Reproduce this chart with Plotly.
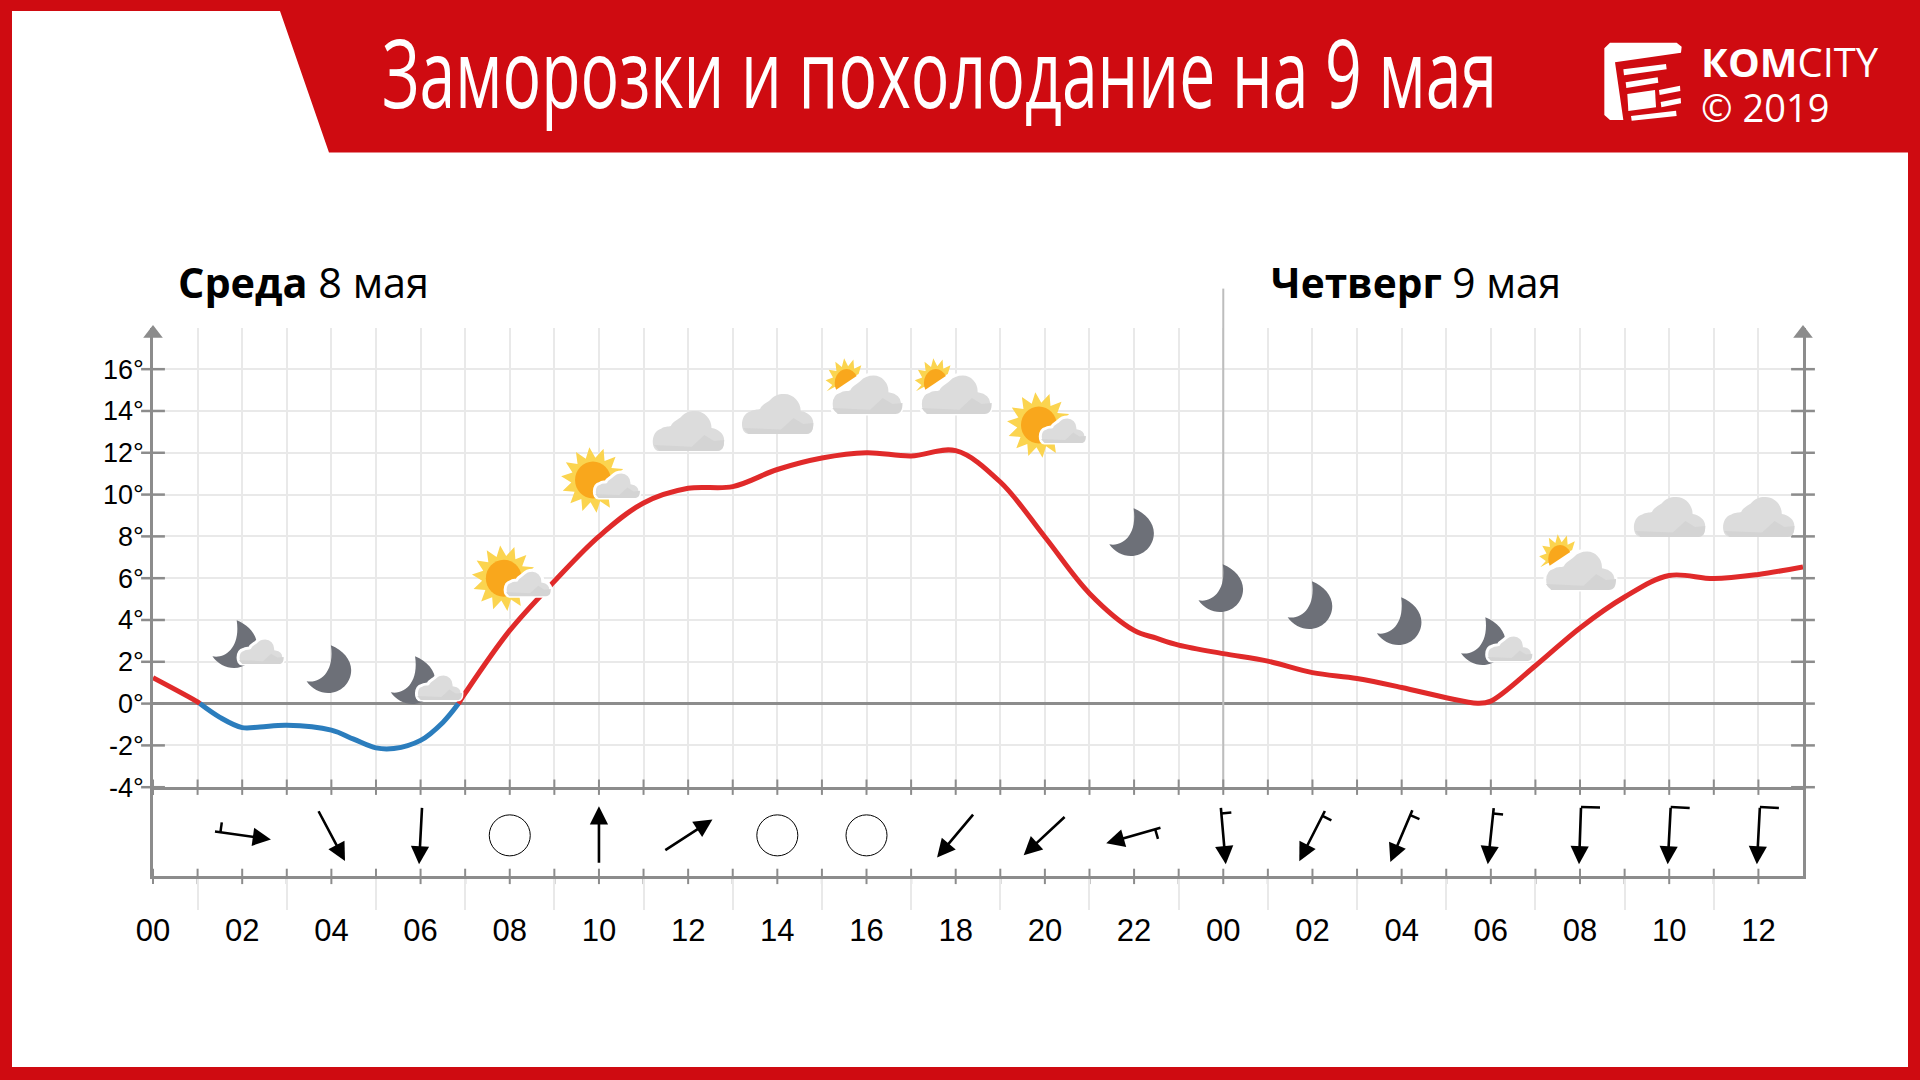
import math
import plotly.graph_objects as go

# ---- data ----
hours = [0, 1, 1.05, 1.5, 2, 2.4, 3, 4, 4.5, 5, 5.4, 6, 6.5, 6.85, 7, 8, 9, 10, 11, 12, 13, 14, 15, 16, 17, 18, 19, 20, 21, 22, 22.5, 23, 24, 25, 26, 27, 28, 29, 29.7, 30, 31, 32, 33, 34, 35, 36, 37]
temps = [1.24, 0.08, 0, -0.66, -1.15, -1.12, -1.04, -1.27, -1.7, -2.12, -2.15, -1.76, -0.9, 0, 0.5, 3.5, 5.85, 8.0, 9.6, 10.3, 10.38, 11.2, 11.75, 12.0, 11.85, 12.1, 10.6, 7.97, 5.27, 3.5, 3.13, 2.8, 2.39, 2.03, 1.48, 1.2, 0.77, 0.28, 0.02, 0.12, 1.81, 3.62, 5.1, 6.13, 5.98, 6.18, 6.54]

tick_temps = [-4, -2, 0, 2, 4, 6, 8, 10, 12, 14, 16]
tick_temp_labels = ["-4°", "-2°", "0°", "2°", "4°", "6°", "8°", "10°", "12°", "14°", "16°"]
label_hours = [0, 2, 4, 6, 8, 10, 12, 14, 16, 18, 20, 22, 24, 26, 28, 30, 32, 34, 36]
label_texts = ["00", "02", "04", "06", "08", "10", "12", "14", "16", "18", "20", "22", "00", "02", "04", "06", "08", "10", "12"]

wind_hours = [2, 4, 6, 10, 12, 18, 20, 22, 24, 26, 28, 30, 32, 34, 36]
wind_dirs = [98, 152, 183, 0, 57, 220, 227, 254, 175, 207, 203, 186, 182, 183, 183]
wind_gusts = [1, 0, 0, 0, 0, 0, 0, 1, 1, 1, 1, 1, 2, 2, 2]
calm_hours = [8, 14, 16]

icon_hours = [2, 4, 6, 8, 10, 12, 14, 16, 18, 20, 22, 24, 26, 28, 30, 32, 34, 36]
icon_levels = [2.85, 1.66, 1.13, 6.0, 10.7, 13.04, 13.86, 14.81, 14.81, 13.33, 8.21, 5.53, 4.72, 3.95, 3.0, 6.39, 8.93, 8.93]
icon_kinds = ["moon_cloud", "moon", "moon_cloud", "sun_cloud", "sun_cloud", "cloud", "cloud", "sunny_cloud", "sunny_cloud",
              "sun_cloud", "moon", "moon", "moon", "moon", "moon_cloud", "sunny_cloud", "cloud", "cloud"]

title_text = "Заморозки и похолодание на 9 мая"
day_one = "<b>Среда</b> 8 мая"
day_two = "<b>Четверг</b> 9 мая"

# ---- page geometry (pixels) and colours ----
W, H = 1920, 1080
X0, X1 = 153, 1803
PLOT_TOP, PLOT_BOT, WIND_BOT = 328, 787.2, 876.4
WIND_MID = 0.46
RED = "#cf0b11"
GREY = "#8c8c8c"
GRID = "#e9e9e9"
DIVIDER = "#bdbdbd"
LINE_RED = "#e02a2a"
LINE_BLUE = "#2b7dbd"
MOON = "#6d7078"
SUN_OUT = "#fbd44f"
SUN_IN = "#f9a71c"
CLOUD = "#dcdcdc"
CLOUD_DARK = "#d4d4d4"


def px(x):
    return x / W


def py(y):
    return 1 - y / H


def paper_path(points):
    return "M" + " L".join(f"{px(a):.5f},{py(b):.5f}" for a, b in points) + " Z"


def logo(zoom_points):
    return paper_path([(1595 + a / 3, 30 + b / 3) for a, b in zoom_points])


shapes = []
annotations = []

# white page on the red background
shapes.append(dict(type="path", xref="paper", yref="paper", layer="below", line_width=0, fillcolor="white",
                   path=paper_path([(12, 11), (280, 11), (329, 152.5), (1908, 152.5), (1908, 1067), (12, 1067)])))

# logo
for pts in [
    [(45, 38), (245, 38), (260, 50), (258, 68), (60, 97), (85, 270), (45, 270), (28, 255), (28, 55)],
    [(85, 118), (213, 102), (215, 118), (87, 136)],
    [(92, 157), (188, 142), (190, 158), (94, 174)],
    [(97, 192), (180, 180), (183, 232), (100, 243)],
    [(192, 180), (255, 167), (256, 183), (194, 195)],
    [(197, 216), (257, 204), (258, 220), (199, 232)],
    [(108, 258), (243, 242), (245, 258), (110, 272)],
]:
    shapes.append(dict(type="path", xref="paper", yref="paper", line_width=0, fillcolor="white", path=logo(pts)))

# the day divider continues above the plot
shapes.append(dict(type="line", xref="x", yref="paper", x0=24, x1=24, y0=py(PLOT_TOP), y1=py(288.6),
                   layer="below", line=dict(color=DIVIDER, width=2)))


def pixel_shape(path, hour, level, dx, dy, fill, line=None):
    """path given in pixels around (hour, level) with y down"""
    out = []
    for cmd, pts in path:
        coords = " ".join(f"{a + dx:.1f},{-(b + dy):.1f}" for a, b in pts)
        out.append(cmd + coords)
    shapes.append(dict(type="path", xref="x", yref="y", xsizemode="pixel", ysizemode="pixel",
                       xanchor=hour, yanchor=level, path=" ".join(out) + " Z", fillcolor=fill,
                       line=dict(color=line or fill, width=3 if line else 0), layer="above"))


MOON_PATH = [("M", [(2, -23.7)]),
             ("C", [(14, -19), (22.3, -9), (22.3, 1)]),
             ("C", [(22.3, 14), (12, 24), (-0.7, 24)]),
             ("C", [(-9, 24), (-17, 20), (-22.3, 12.3)]),
             ("C", [(-9, 15), (6, 3), (2, -23.7)])]


def scaled(path, w, h):
    return [(c, [(a * w, b * h) for a, b in pts]) for c, pts in path]


CLOUD_PATH = [("M", [(-0.8, 1)]),
              ("C", [(-1.05, 1), (-1.05, 0), (-0.75, -0.12)]),
              ("C", [(-0.65, -0.25), (-0.55, -0.2), (-0.48, -0.25)]),
              ("C", [(-0.42, -0.5), (-0.25, -0.6), (-0.2, -0.7)]),
              ("C", [(-0.05, -1), (0.1, -1), (0.2, -1)]),
              ("C", [(0.45, -1), (0.65, -0.6), (0.65, -0.15)]),
              ("C", [(0.85, -0.1), (1, 0.15), (1, 0.45)]),
              ("C", [(1, 0.8), (0.95, 1), (0.8, 1)])]
CLOUD_SHADE = [("M", [(-0.95, 0.7)]),
               ("L", [(0.1, 0.78)]),
               ("L", [(0.45, 0.2)]),
               ("L", [(0.72, 0.5)]),
               ("L", [(1, 0.45)]),
               ("C", [(1, 0.8), (0.95, 1), (0.8, 1)]),
               ("L", [(-0.8, 1)])]


def star(rx, ry, k=0.68, n=14, t0=-90.0, t1=270.0):
    pts = []
    for i in range(2 * n):
        deg = 180.0 * i / n + 135.0
        if t0 <= deg <= t1 or t0 <= deg - 360 <= t1:
            f = 1 if i % 2 == 0 else k
            t = math.radians(deg)
            pts.append((deg if t0 <= deg <= t1 else deg - 360, rx * f * math.cos(t), ry * f * math.sin(t)))
    pts.sort()
    return [(a, b) for _, a, b in pts]


def disc(rx, ry):
    kx, ky = 0.5523 * rx, 0.5523 * ry
    return [("M", [(0, -ry)]),
            ("C", [(kx, -ry), (rx, -ky), (rx, 0)]),
            ("C", [(rx, ky), (kx, ry), (0, ry)]),
            ("C", [(-kx, ry), (-rx, ky), (-rx, 0)]),
            ("C", [(-rx, -ky), (-kx, -ry), (0, -ry)])]


def poly(points):
    return [("M", [points[0]])] + [("L", [p]) for p in points[1:]]


def draw_sun(hour, level, dx, dy, rx, ry):
    pixel_shape(poly(star(rx, ry)), hour, level, dx, dy, SUN_OUT)
    pixel_shape(disc(rx * 0.56, ry * 0.56), hour, level, dx, dy, SUN_IN)


def draw_half_sun(hour, level, dx, dy, rx, ry):
    """the part of the sun that shows over the shoulder of a large cloud"""
    a0, a1 = 152.0, 330.0
    pixel_shape(poly(star(rx, ry, t0=a0, t1=a1)), hour, level, dx, dy, SUN_OUT)
    arc = [(0.56 * rx * math.cos(math.radians(a0 + (a1 - a0) * i / 12)),
            0.56 * ry * math.sin(math.radians(a0 + (a1 - a0) * i / 12))) for i in range(13)]
    pixel_shape(poly(arc), hour, level, dx, dy, SUN_IN)


def draw_cloud(hour, level, dx, dy, w, h, outline=True):
    pixel_shape(scaled(CLOUD_PATH, w, h), hour, level, dx, dy, CLOUD, "white" if outline else None)
    pixel_shape(scaled(CLOUD_SHADE, w, h), hour, level, dx, dy, CLOUD_DARK)


for hour, level, kind in zip(icon_hours, icon_levels, icon_kinds):
    if kind == "moon":
        pixel_shape(MOON_PATH, hour, level, -2.5, 0, MOON)
    elif kind == "moon_cloud":
        pixel_shape(MOON_PATH, hour, level, -7.5, 0, MOON)
        draw_cloud(hour, level, 18.5, 7, 23, 13)
    elif kind == "sun_cloud":
        draw_sun(hour, level, -6, 0, 32, 33)
        draw_cloud(hour, level, 18, 5, 23, 13)
    elif kind == "sunny_cloud":
        draw_half_sun(hour, level, -20, -11, 21, 25)
        draw_cloud(hour, level, 0, 0, 36, 20)
    else:
        draw_cloud(hour, level, 0, 0, 36, 20, outline=False)

# wind arrows
ARROW = 58
for hour, direction, gust in zip(wind_hours, wind_dirs, wind_gusts):
    t = math.radians(direction)
    ux, uy = math.sin(t), -math.cos(t)
    annotations.append(dict(x=hour, y=WIND_MID, xref="x2", yref="y2", text="", showarrow=True, arrowhead=2, arrowsize=1.4,
                            arrowwidth=2.6, arrowcolor="black", standoff=0, startstandoff=0, axref="pixel", ayref="pixel",
                            ax=-ux * ARROW, ay=-uy * ARROW, xshift=ux * ARROW / 2, yshift=-uy * ARROW / 2))
    if gust:
        along, size = (7, 10) if gust == 1 else (0.5, 19)
        bx = -ux * ARROW / 2 + ux * along
        by = -uy * ARROW / 2 + uy * along
        shapes.append(dict(type="line", xref="x2", yref="y2", xsizemode="pixel", ysizemode="pixel",
                           xanchor=hour, yanchor=WIND_MID, x0=bx, y0=-by, x1=bx + uy * size, y1=-(by - ux * size),
                           line=dict(color="black", width=2.5)))

fig = go.Figure()

# day divider inside the plot, under the curve
fig.add_trace(go.Scatter(x=[24, 24], y=[-4, 17.97], mode="lines", showlegend=False, hoverinfo="skip",
                         line=dict(color=DIVIDER, width=2)))

# temperature, split where it crosses zero
start = 0
segments = []
for i in range(1, len(temps)):
    if temps[i] == 0:
        segments.append((start, i + 1))
        start = i
segments.append((start, len(temps)))
for a, b in segments:
    seg = temps[a:b]
    cold = min(seg) < 0
    fig.add_trace(go.Scatter(x=hours[a:b], y=seg, mode="lines", showlegend=False, hoverinfo="skip",
                             line=dict(color=LINE_BLUE if cold else LINE_RED, width=5, shape="spline", smoothing=1.0)))

all_hours = list(range(0, 38))
# tick marks crossing the axes
for x_val in (0, 37):
    fig.add_trace(go.Scatter(x=[x_val] * len(tick_temps), y=tick_temps, mode="markers", cliponaxis=False, showlegend=False,
                             hoverinfo="skip", marker=dict(symbol="line-ew", size=17, line=dict(color=GREY, width=2.5))))
    fig.add_trace(go.Scatter(x=[x_val], y=[17.71], mode="markers", cliponaxis=False, showlegend=False, hoverinfo="skip",
                             marker=dict(symbol="triangle-up", size=17, color=GREY)))
fig.add_trace(go.Scatter(x=all_hours[:-1], y=[-4] * 37, mode="markers", cliponaxis=False, showlegend=False, hoverinfo="skip",
                         marker=dict(symbol="line-ns", size=11, line=dict(color=GREY, width=2))))
fig.add_trace(go.Scatter(x=all_hours[:-1], y=[0] * 37, xaxis="x2", yaxis="y2", mode="markers", cliponaxis=False, showlegend=False,
                         hoverinfo="skip", marker=dict(symbol="line-ns", size=11, line=dict(color=GREY, width=2))))
# calm hours
fig.add_trace(go.Scatter(x=calm_hours, y=[WIND_MID] * 3, xaxis="x2", yaxis="y2", mode="markers", showlegend=False, hoverinfo="skip",
                         marker=dict(symbol="circle-open", size=41, color="black", line=dict(color="black", width=1))))

for txt, x, y, size, color in [
    (title_text, 380, 72, 64, "white"),
    (day_one, 176, 282, 42, "black"),
    (day_two, 1269, 282, 42, "black"),
    ("<b>КОМ</b>CITY", 1699, 62, 40, "white"),
    ("© 2019", 1699, 107, 38, "white"),
]:
    annotations.append(dict(text=txt, xref="paper", yref="paper", x=px(x), y=py(y), xanchor="left", yanchor="middle",
                            showarrow=False, font=dict(family="Open Sans", size=size, color=color)))

fig.update_layout(
    width=W, height=H, margin=dict(l=0, r=0, t=0, b=0, autoexpand=False), autosize=False, paper_bgcolor=RED, plot_bgcolor="rgba(0,0,0,0)",
    showlegend=False, shapes=shapes, annotations=annotations, font=dict(family="Liberation Sans", color="black"),
    xaxis=dict(domain=[px(X0), px(X1)], range=[0, 37], anchor="y", tickmode="array", tickvals=all_hours, showticklabels=False, automargin=False,
               showgrid=True, gridcolor=GRID, gridwidth=2, showline=True, linecolor=GREY, linewidth=2.5, ticks="", zeroline=False),
    yaxis=dict(domain=[py(PLOT_BOT), py(PLOT_TOP)], range=[-4, 17.97], anchor="x", tickmode="array", tickvals=tick_temps, automargin=False,
               ticktext=tick_temp_labels, tickfont=dict(size=27, family="Liberation Sans"), showgrid=True, gridcolor=GRID, gridwidth=2,
               zeroline=True, zerolinecolor=GREY, zerolinewidth=2.5, showline=True, linecolor=GREY, linewidth=2.5, mirror=True, ticks="",
               ticklabelstandoff=1),
    xaxis2=dict(domain=[px(X0), px(X1)], range=[0, 37], anchor="y2", tickmode="array", tickvals=label_hours, ticktext=label_texts, automargin=False,
                tickfont=dict(size=31, family="Liberation Sans"), showgrid=False, zeroline=False, showline=True, linecolor=GREY, linewidth=2.5,
                ticks="", ticklabelstandoff=25,
                minor=dict(tickvals=list(range(1, 37, 2)), ticks="outside", ticklen=31, tickcolor=GRID, tickwidth=2)),
    yaxis2=dict(domain=[py(WIND_BOT), py(PLOT_BOT)], range=[0, 1], anchor="x2", showgrid=False, showticklabels=False, zeroline=False, automargin=False,
                showline=True, linecolor=GREY, linewidth=2.5, mirror=True, ticks=""),
)

# give the headline the tall, narrow proportions of the condensed face in the reference
SCRIPT = """
document.body.style.margin='0';document.body.style.overflow='hidden';
var gd=document.getElementById('{plot_id}');
function condense(){
  gd.querySelectorAll('text.annotation-text').forEach(function(t){
    var c=t.textContent, want=0, sy=1;
    if(c.indexOf('Заморозки')===0){want=1115;sy=1.5;}
    if(c.indexOf('Среда')===0) want=251;
    if(c.indexOf('Четверг')===0) want=290;
    if(!want) return;
    var b=t.getBBox(), s=want/b.width, cy=b.y+b.height/2;
    t.setAttribute('transform','translate('+b.x+','+cy+') scale('+s+','+sy+') translate('+(-b.x)+','+(-cy)+')');
    var r=t.parentNode.querySelector('rect');
    if(r) r.setAttribute('width',want);
  });
}
condense();gd.on('plotly_afterplot',condense);setTimeout(condense,200);
"""
fig.write_html("out.html", post_script=SCRIPT, config=dict(displayModeBar=False))
